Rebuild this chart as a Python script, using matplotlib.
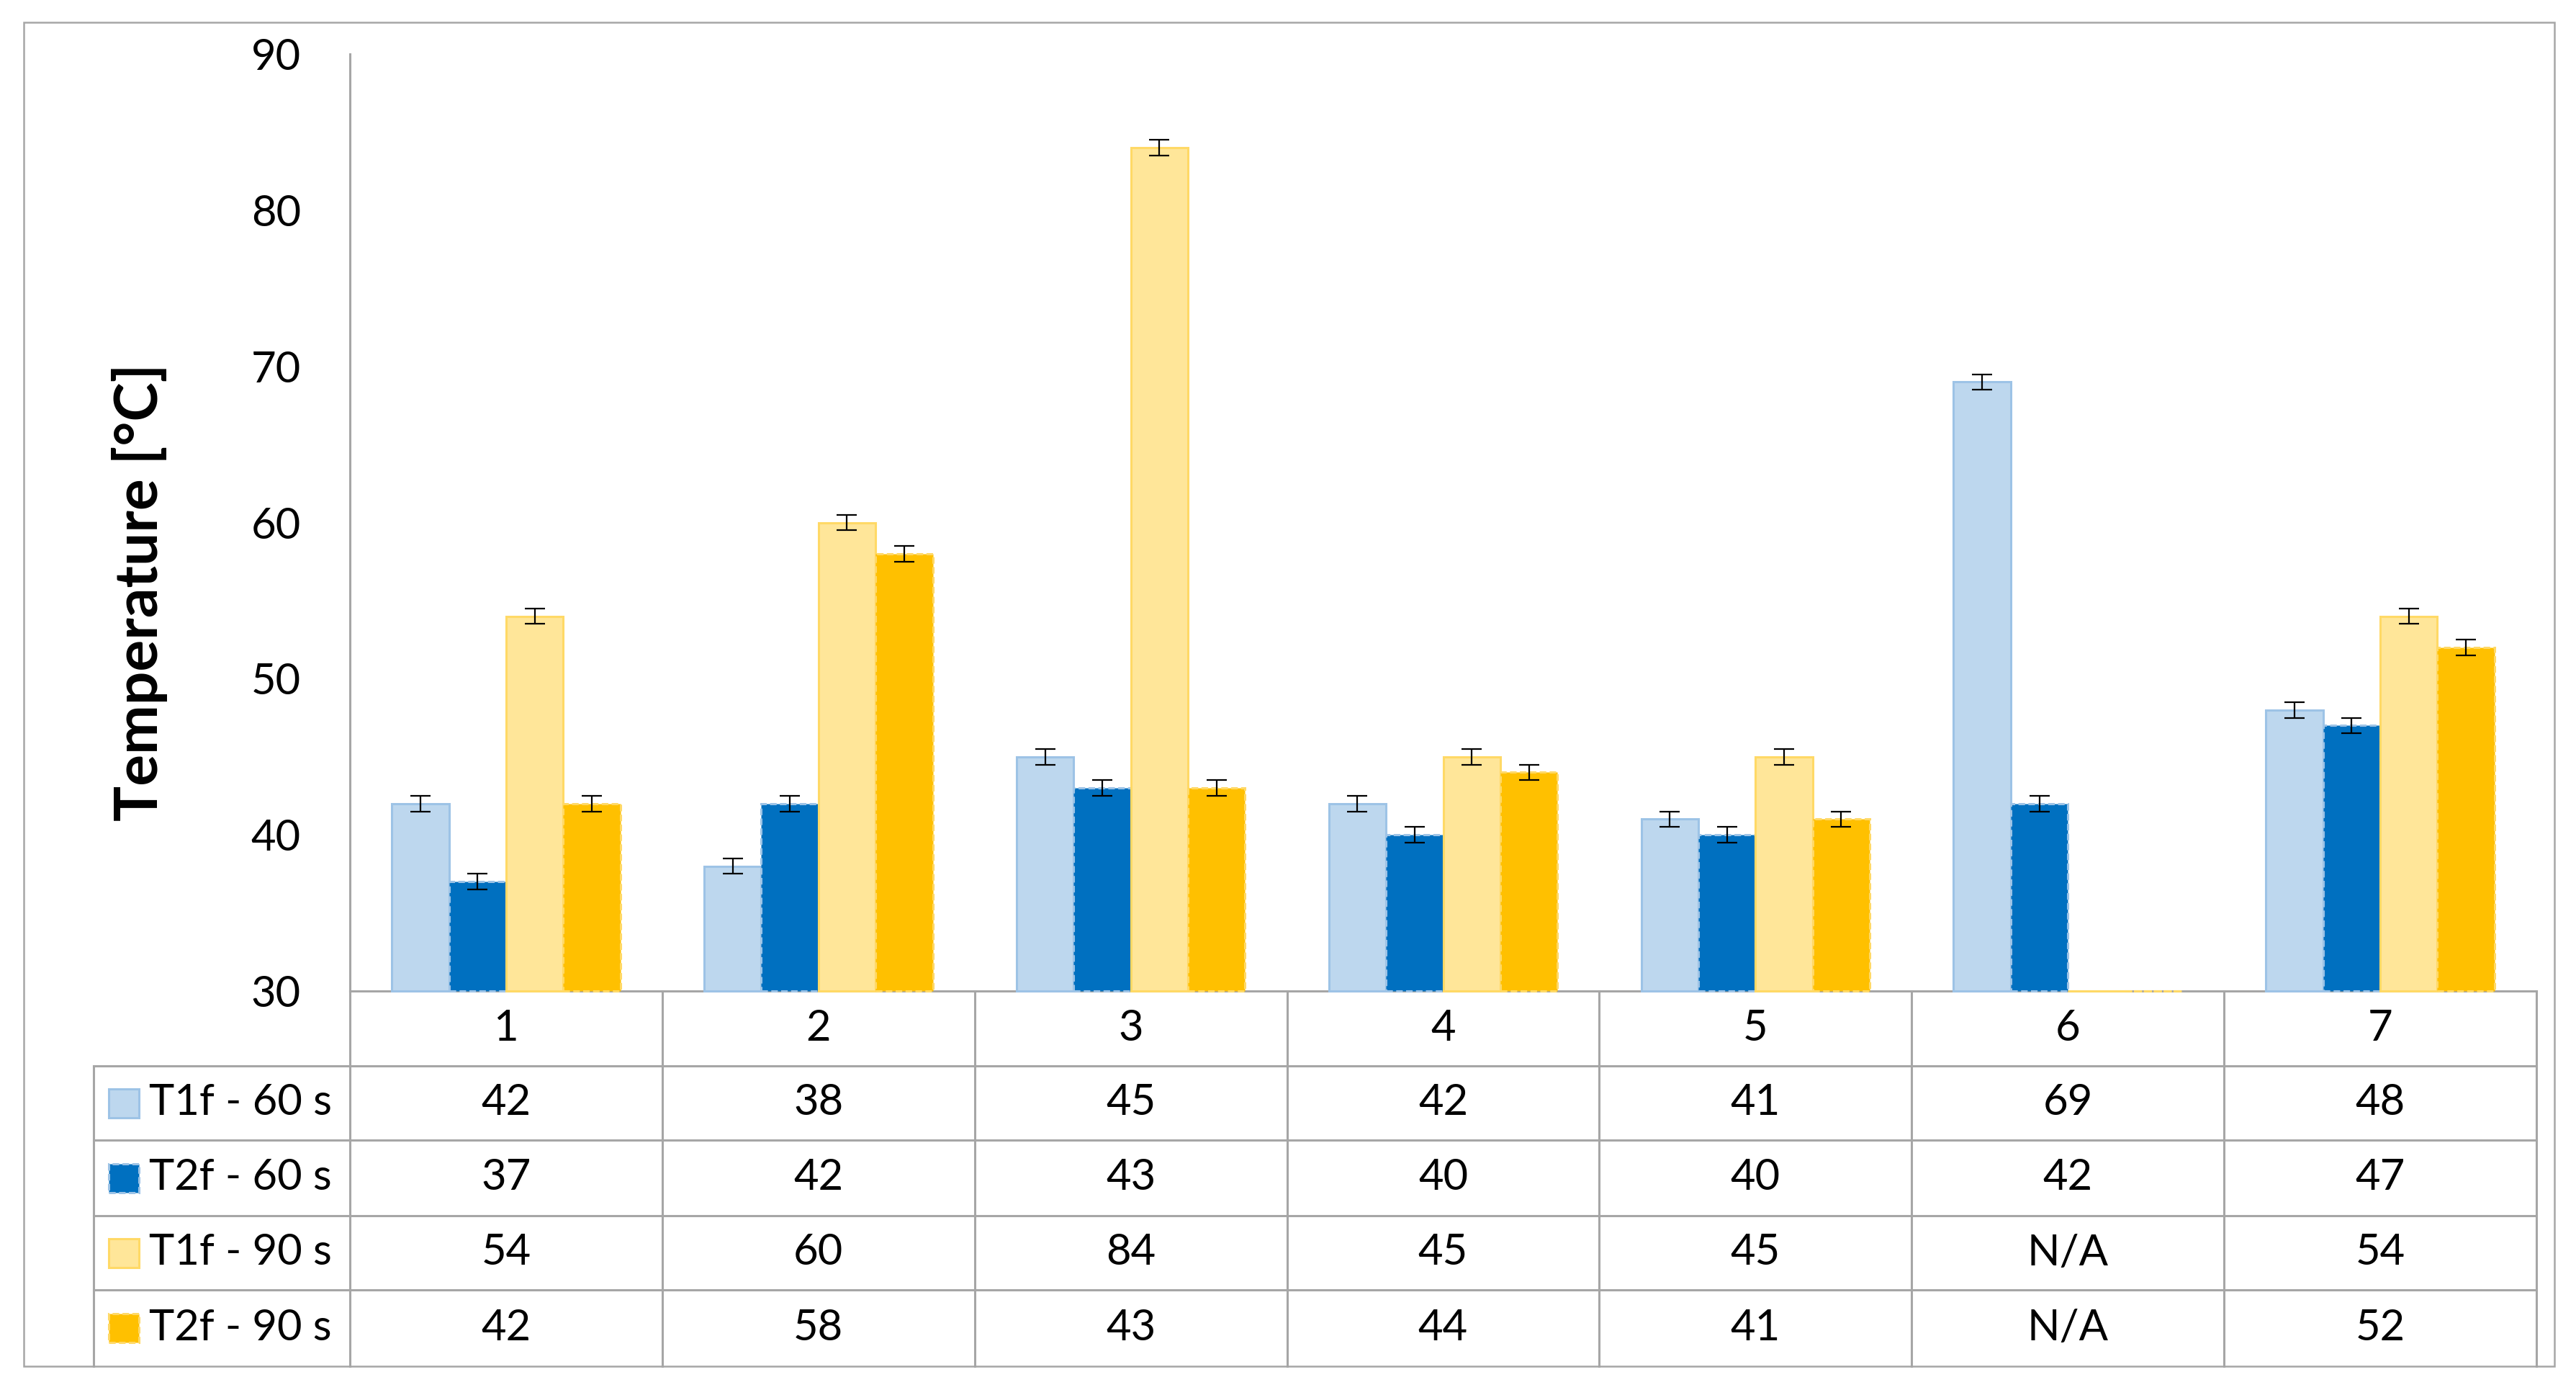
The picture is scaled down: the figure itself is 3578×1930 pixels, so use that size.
import matplotlib
matplotlib.use("Agg")
import matplotlib.pyplot as plt
from matplotlib.patches import Rectangle
from matplotlib.lines import Line2D
from matplotlib.transforms import blended_transform_factory

# data
CATEGORIES = ["1", "2", "3", "4", "5", "6", "7"]
SERIES = ["T1f - 60 s", "T2f - 60 s", "T1f - 90 s", "T2f - 90 s"]
T1F_60 = [42, 38, 45, 42, 41, 69, 48]
T2F_60 = [37, 42, 43, 40, 40, 42, 47]
T1F_90 = [54, 60, 84, 45, 45, None, 54]
T2F_90 = [42, 58, 43, 44, 41, None, 52]
ERR = 0.5
Y_TICKS = [30, 40, 50, 60, 70, 80, 90]

FILL = ["#BDD7EE", "#0070C0", "#FFE699", "#FFC000"]
EDGE = ["#9DC3E6", "#9DC3E6", "#FFD966", "#FFD966"]
DASHED = [False, True, False, True]
GRID = "#A6A6A6"

W, H = 3578, 1930
plt.rcParams["font.family"] = ["Lato", "DejaVu Sans"]


def fx(px):
    return px / W


def fy(py):
    return 1 - py / H


def main():
    fig = plt.figure(figsize=(W / 100, H / 100), dpi=100)
    ax_left, ax_right, ax_top, ax_bot = 486, 3523, 75, 1376
    ax = fig.add_axes([fx(ax_left), fy(ax_bot), fx(ax_right - ax_left), (ax_bot - ax_top) / H])

    all_series = [T1F_60, T2F_60, T1F_90, T2F_90]
    width = 0.183
    offsets = [-1.5, -0.5, 0.5, 1.5]
    for s, vals in enumerate(all_series):
        xs = [i + offsets[s] * width for i in range(len(CATEGORIES))]
        heights = [0 if v is None else v - 30 for v in vals]
        ls = (0, (3, 1.5)) if DASHED[s] else "-"
        ax.bar(xs, heights, width=width, bottom=30, color=FILL[s], edgecolor=EDGE[s],
               linewidth=2.2, linestyle=ls, zorder=3, clip_on=False)
        ex = [x for x, v in zip(xs, vals) if v is not None]
        ey = [v for v in vals if v is not None]
        ax.errorbar(ex, ey, yerr=ERR, fmt="none", ecolor="black", elinewidth=1.6,
                    capsize=10, capthick=1.6, zorder=4)

    ax.set_xlim(-0.5, len(CATEGORIES) - 0.5)
    ax.set_ylim(30, 90)
    ax.set_yticks(Y_TICKS)
    ax.set_xticks([])
    ax.tick_params(axis="y", length=0, pad=49, labelsize=43)
    for side in ["top", "right"]:
        ax.spines[side].set_visible(False)
    for side in ["left", "bottom"]:
        ax.spines[side].set_color(GRID)
        ax.spines[side].set_linewidth(2.2)

    fig.text(fx(194), fy(822), "Temperature [°C]", rotation=90, fontsize=59,
             fontweight="bold", ha="center", va="center")

    # data table under the axis
    tr = blended_transform_factory(ax.transData, fig.transFigure)
    rows = [1376, 1480, 1583, 1688, 1791, 1897]
    label_left = 130
    n = len(CATEGORIES)
    for b in range(n + 1):
        ax.add_line(Line2D([b - 0.5, b - 0.5], [fy(rows[0]), fy(rows[-1])], transform=tr,
                           color=GRID, lw=2.2, clip_on=False))
    for r in rows[1:-1]:
        fig.add_artist(Line2D([fx(label_left), fx(ax_right)], [fy(r), fy(r)], color=GRID, lw=2.2))
    fig.add_artist(Line2D([fx(label_left), fx(label_left)], [fy(rows[1]), fy(rows[-1])],
                          color=GRID, lw=2.2))

    for i, cat in enumerate(CATEGORIES):
        ax.text(i, fy((rows[0] + rows[1]) / 2), cat, transform=tr, ha="center", va="center",
                fontsize=43)
    for s, vals in enumerate(all_series):
        yc = fy((rows[s + 1] + rows[s + 2]) / 2)
        for i, v in enumerate(vals):
            ax.text(i, yc, "N/A" if v is None else str(v), transform=tr, ha="center",
                    va="center", fontsize=43)
        ls = (0, (3, 1.5)) if DASHED[s] else "-"
        fig.add_artist(Rectangle((fx(151), yc - 20 / H), fx(42), 40 / H, facecolor=FILL[s],
                                 edgecolor=EDGE[s], lw=2.2, linestyle=ls))
        fig.text(fx(207), yc, SERIES[s], ha="left", va="center", fontsize=43)

    # chart area border
    fig.add_artist(Rectangle((fx(33), fy(1897)), fx(3548 - 33), (1897 - 31) / H,
                             facecolor="none", edgecolor=GRID, lw=1.8))

    fig.savefig("out.png", dpi=100)
    plt.close(fig)


if __name__ == "__main__":
    main()
